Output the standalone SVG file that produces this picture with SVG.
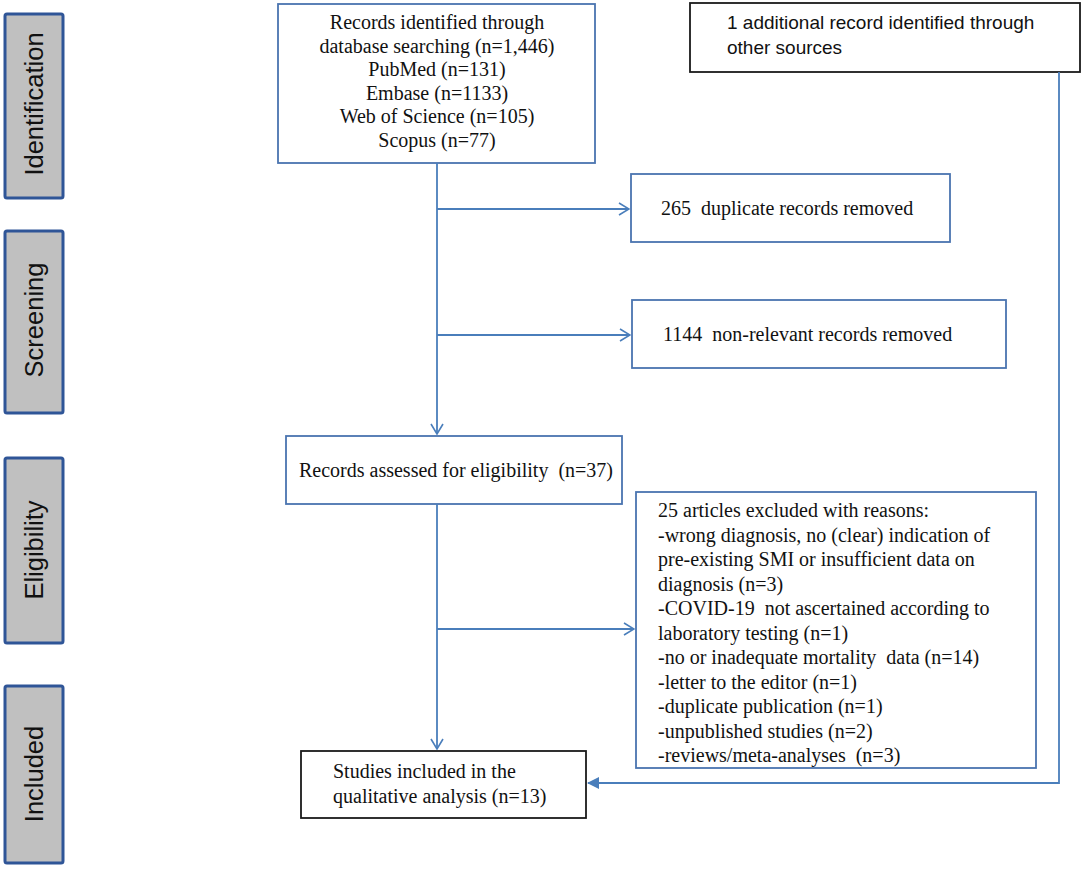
<svg xmlns="http://www.w3.org/2000/svg" width="1084" height="874" viewBox="0 0 1084 874">
<defs>
<marker id="open" viewBox="0 0 12 14" refX="11" refY="7" markerWidth="12" markerHeight="14" markerUnits="userSpaceOnUse" orient="auto">
<path d="M1,1 L11,7 L1,13" fill="none" stroke="#4a7ebb" stroke-width="1.6"/>
</marker>
<marker id="solid" viewBox="0 0 12 12" refX="11" refY="6" markerWidth="12" markerHeight="12" markerUnits="userSpaceOnUse" orient="auto">
<path d="M0,0 L12,6 L0,12 Z" fill="#4a7ebb"/>
</marker>
</defs>
<style>
.stage{fill:#c0c0c0;stroke:#2f5597;stroke-width:3}
.stxt{font-family:"Liberation Sans",Arial,sans-serif;font-size:25.5px;fill:#111;text-anchor:middle}
.bbox{fill:#fff;stroke:#4a74b0;stroke-width:1.8}
.kbox{fill:#fff;stroke:#1a1a1a;stroke-width:1.8}
.t{font-family:"Liberation Serif","Times New Roman",serif;font-size:20px;fill:#111}
.tc{text-anchor:middle}
.s{font-family:"Liberation Sans",Arial,sans-serif;font-size:19px;fill:#111}
.c{fill:none;stroke:#4a7ebb;stroke-width:1.8}
</style>
<rect width="1084" height="874" fill="#fff"/>

<g id="stage-identification">
<rect class="stage" x="5" y="14" width="58" height="184" rx="2"/>
<text class="stxt" transform="translate(43,104) rotate(-90)">Identification</text>
</g>
<g id="stage-screening">
<rect class="stage" x="5" y="231" width="58" height="182" rx="2"/>
<text class="stxt" transform="translate(43,320) rotate(-90)">Screening</text>
</g>
<g id="stage-eligibility">
<rect class="stage" x="5" y="458" width="58" height="185" rx="2"/>
<text class="stxt" transform="translate(43,550) rotate(-90)">Eligibility</text>
</g>
<g id="stage-included">
<rect class="stage" x="5" y="686" width="58" height="177" rx="2"/>
<text class="stxt" transform="translate(43,774) rotate(-90)">Included</text>
</g>

<g id="records-identified">
<rect class="bbox" x="278" y="4" width="317" height="159"/>
<text class="t tc" x="437" y="29">Records identified  through</text>
<text class="t tc" x="437" y="52.5">database searching (n=1,446)</text>
<text class="t tc" x="437" y="76">PubMed (n=131)</text>
<text class="t tc" x="437" y="99.5">Embase  (n=1133)</text>
<text class="t tc" x="437" y="123">Web of Science  (n=105)</text>
<text class="t tc" x="437" y="146.5">Scopus (n=77)</text>
</g>

<g id="additional-record">
<rect class="kbox" x="690" y="3" width="390" height="69"/>
<text class="s" x="727" y="29">1 additional record identified through</text>
<text class="s" x="727" y="54">other sources</text>
</g>

<g id="duplicates-removed">
<rect class="bbox" x="631" y="174" width="319" height="68"/>
<text class="t" x="661" y="215" xml:space="preserve">265  duplicate records removed</text>
</g>

<g id="nonrelevant-removed">
<rect class="bbox" x="632" y="300" width="374" height="68"/>
<text class="t" x="663" y="341" xml:space="preserve">1144  non-relevant records removed</text>
</g>

<g id="assessed-eligibility">
<rect class="bbox" x="286" y="436" width="336" height="68"/>
<text class="t" x="299" y="477" xml:space="preserve">Records assessed for eligibility  (n=37)</text>
</g>

<g id="excluded">
<rect class="bbox" x="636" y="492" width="400" height="276"/>
<text class="t" x="658" y="517">25 articles excluded with reasons:</text>
<text class="t" x="658" y="541.5">-wrong diagnosis, no (clear) indication of</text>
<text class="t" x="658" y="566">pre-existing SMI or insufficient data on</text>
<text class="t" x="658" y="590.5">diagnosis (n=3)</text>
<text class="t" x="658" y="615" xml:space="preserve">-COVID-19  not ascertained according to</text>
<text class="t" x="658" y="639.5">laboratory testing (n=1)</text>
<text class="t" x="658" y="664" xml:space="preserve">-no or inadequate mortality  data (n=14)</text>
<text class="t" x="658" y="688.5">-letter to the editor (n=1)</text>
<text class="t" x="658" y="713">-duplicate publication (n=1)</text>
<text class="t" x="658" y="737.5">-unpublished studies (n=2)</text>
<text class="t" x="658" y="762" xml:space="preserve">-reviews/meta-analyses  (n=3)</text>
</g>

<g id="studies-included">
<rect class="kbox" x="301" y="751" width="285" height="67"/>
<text class="t" x="333" y="778">Studies included in the</text>
<text class="t" x="333" y="803">qualitative analysis (n=13)</text>
</g>

<g id="connectors">
<path class="c" d="M437,163 V434" marker-end="url(#open)"/>
<path class="c" d="M437,209 H629" marker-end="url(#open)"/>
<path class="c" d="M437,335 H630" marker-end="url(#open)"/>
<path class="c" d="M437,504 V749" marker-end="url(#open)"/>
<path class="c" d="M437,629 H634" marker-end="url(#open)"/>
<path class="c" d="M1059,72 V783 H588" marker-end="url(#solid)"/>
</g>
</svg>
